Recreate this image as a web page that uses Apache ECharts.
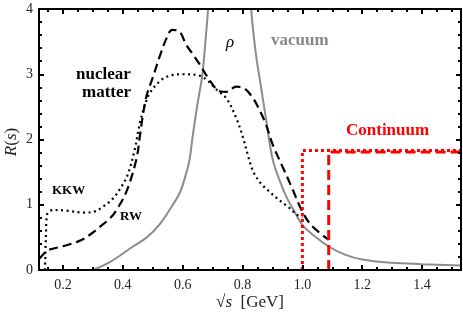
<!DOCTYPE html>
<html>
<head>
<meta charset="utf-8">
<script src="https://cdn.jsdelivr.net/npm/echarts@6/dist/echarts.min.js"></script>
<style>
  html, body { margin: 0; padding: 0; background: #fff; }
  #wrap { position: relative; width: 463px; height: 322px; }
  #chart, #notes { position: absolute; left: 0; top: 0; width: 463px; height: 322px; }
  #notes { pointer-events: none; }
</style>
</head>
<body>
<div id="wrap"><div id="chart"></div><div id="notes"></div></div>
<script>
// axis ticks
const xMajor = [0.2, 0.4, 0.6, 0.8, 1.0, 1.2, 1.4]
const xMinor = [0.15, 0.25, 0.3, 0.35, 0.45, 0.5, 0.55, 0.65, 0.7, 0.75, 0.85, 0.9, 0.95,
  1.05, 1.1, 1.15, 1.25, 1.3, 1.35, 1.45, 1.5]

// vacuum rho spectral function (clipped above 4)
const vacuum = [
  [0.30, 0], [0.36, 0.13], [0.434, 0.36], [0.48, 0.5], [0.523, 0.7], [0.56, 0.95],
  [0.59, 1.18], [0.61, 1.45], [0.623, 1.69], [0.632, 2.0], [0.648, 2.5], [0.666, 3.0],
  [0.676, 3.5], [0.685, 4.0], [0.70, 5.2], [0.73, 9], [0.77, 14], [0.80, 8],
  [0.815, 5.5], [0.829, 4.0], [0.845, 3.3], [0.862, 2.8], [0.879, 2.3], [0.901, 1.69],
  [0.93, 1.3], [0.95, 1.09], [0.973, 0.9], [1.0, 0.69], [1.04, 0.52], [1.088, 0.36],
  [1.14, 0.24], [1.2, 0.16], [1.3, 0.11], [1.4, 0.09], [1.53, 0.07]
]

// RW, nuclear matter (dashed)
const rw = [
  [0.12, 0.17], [0.14, 0.27], [0.146, 0.3], [0.212, 0.38], [0.262, 0.46], [0.29, 0.54],
  [0.323, 0.66], [0.357, 0.79], [0.379, 0.92], [0.412, 1.2], [0.445, 1.69], [0.457, 2.05],
  [0.468, 2.4], [0.48, 2.68], [0.501, 2.96], [0.523, 3.27], [0.546, 3.55], [0.565, 3.68],
  [0.59, 3.65], [0.612, 3.45], [0.635, 3.3], [0.657, 3.15], [0.69, 2.91], [0.723, 2.74],
  [0.746, 2.73], [0.779, 2.81], [0.807, 2.78], [0.834, 2.64], [0.857, 2.45], [0.879, 2.22],
  [0.901, 1.92], [0.934, 1.58], [0.968, 1.23], [0.996, 0.93], [1.029, 0.69], [1.088, 0.46]
]

// KKW, nuclear matter (dotted)
const kkw = [
  [0.14, 0], [0.143, 0.5], [0.147, 0.85], [0.168, 0.92], [0.212, 0.91], [0.268, 0.88],
  [0.301, 0.89], [0.334, 0.97], [0.368, 1.1], [0.396, 1.28], [0.418, 1.48], [0.44, 1.85],
  [0.457, 2.25], [0.479, 2.6], [0.49, 2.71], [0.512, 2.84], [0.534, 2.93], [0.568, 2.99],
  [0.6, 3.0], [0.646, 2.99], [0.679, 2.92], [0.712, 2.77], [0.746, 2.63], [0.779, 2.33],
  [0.801, 2.04], [0.818, 1.76], [0.834, 1.53], [0.857, 1.35], [0.89, 1.2], [0.923, 1.07],
  [0.957, 0.95], [0.984, 0.84], [1.0, 0.81]
]

// continuum thresholds
const contKKW = [[1.0, 0], [1.0, 1.83], [1.53, 1.83]]
const contRW = [[1.088, 0], [1.088, 1.81], [1.53, 1.81]]

const serif = 'Liberation Serif, DejaVu Serif, serif'

const chart = echarts.init(document.getElementById('chart'))

function xAx(pos, ticks, len, labels) {
  return {
    type: 'value', position: pos, min: 0.12, max: 1.53, z: 10,
    axisLine: { show: true, onZero: false, lineStyle: { color: '#000', width: 2 } },
    splitLine: { show: false },
    axisTick: { show: true, inside: true, length: len, customValues: ticks,
      lineStyle: { color: '#000', width: 2 } },
    axisLabel: labels
      ? { show: true, customValues: ticks, margin: 8, color: '#222', fontSize: 14, fontFamily: serif,
          formatter: v => v.toFixed(1) }
      : { show: false }
  }
}

function yAx(pos, labels) {
  return {
    type: 'value', position: pos, min: 0, max: 4, interval: 1, z: 10,
    axisLine: { show: true, onZero: false, lineStyle: { color: '#000', width: 2 } },
    splitLine: { show: false },
    axisTick: { show: true, inside: true, length: 5, lineStyle: { color: '#000', width: 2 } },
    minorTick: { show: true, splitNumber: 5, length: 3, lineStyle: { color: '#000', width: 2 } },
    axisLabel: labels
      ? { show: true, margin: 6, color: '#222', fontSize: 14, fontFamily: serif }
      : { show: false }
  }
}

function line(data, color, width, type) {
  return {
    type: 'line', data: data, showSymbol: false, smooth: 0.35,
    lineStyle: { color: color, width: width, type: type, cap: 'butt' }
  }
}

chart.setOption({
  animation: false,
  grid: { left: 39, right: 2, top: 9, bottom: 52, show: true, borderColor: '#000', borderWidth: 2,
    backgroundColor: 'transparent' },
  xAxis: [
    xAx('bottom', xMajor, 5, true),
    xAx('bottom', xMinor, 3, false),
    xAx('top', xMajor, 5, false),
    xAx('top', xMinor, 3, false)
  ],
  yAxis: [yAx('left', true), yAx('right', false)],
  series: [
    line(vacuum, '#8c8c8c', 2, 'solid'),
    line(rw, '#000', 2.2, [9, 5]),
    line(kkw, '#000', 2.2, [2, 3.5]),
    Object.assign(line(contKKW, '#ff0000', 3, [3, 3]), { smooth: false }),
    Object.assign(line(contRW, '#ff0000', 3, [10, 5]), { smooth: false })
  ]
})

// text annotations on a transparent layer above the plot
const notes = echarts.init(document.getElementById('notes'))
notes.setOption({
  animation: false,
  graphic: [
    { type: 'text', left: 76, top: 66, style: { text: 'nuclear', font: 'bold 17px ' + serif, fill: '#000' } },
    { type: 'text', left: 82, top: 84, style: { text: 'matter', font: 'bold 17px ' + serif, fill: '#000' } },
    { type: 'text', left: 226, top: 34, style: { text: 'ρ', font: 'italic 17px ' + serif, fill: '#000' } },
    { type: 'text', left: 271, top: 32, style: { text: 'vacuum', font: 'bold 17px ' + serif, fill: '#888' } },
    { type: 'text', left: 346, top: 122, style: { text: 'Continuum', font: 'bold 17px ' + serif, fill: '#ff0000' } },
    { type: 'text', left: 52, top: 184, style: { text: 'KKW', font: 'bold 13px ' + serif, fill: '#000' } },
    { type: 'text', left: 120, top: 210, style: { text: 'RW', font: 'bold 13px ' + serif, fill: '#000' } },
    { type: 'text', x: 12, y: 142, rotation: Math.PI / 2,
      style: { text: '{i|R}(' + '{i|s})', align: 'center', verticalAlign: 'middle',
        font: '17px ' + serif, fill: '#222',
        rich: { i: { fontStyle: 'italic', fontSize: 17, fontFamily: serif } } } },
    { type: 'text', x: 250, y: 303,
      style: { text: '√{i|s}  [GeV]', align: 'center', verticalAlign: 'middle',
        font: '17px ' + serif, fill: '#222',
        rich: { i: { fontStyle: 'italic', fontSize: 17, fontFamily: serif } } } }
  ]
})
</script>
</body>
</html>
